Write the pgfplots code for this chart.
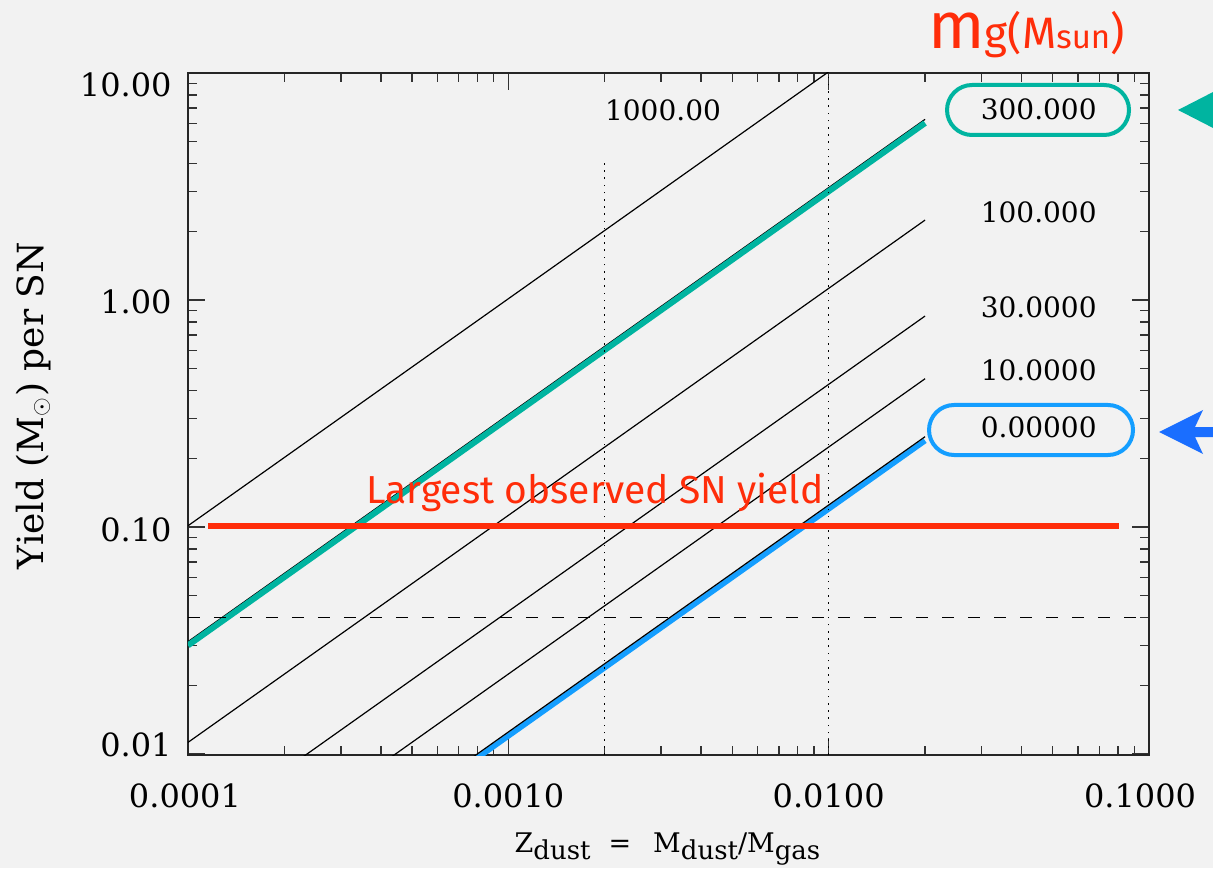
\documentclass[border=0pt]{standalone}
\usepackage{fontspec}
\setmainfont{DejaVu Serif}
\newfontfamily\handfont{Fira Sans}
\usepackage{pgfplots}
\pgfplotsset{compat=1.18}

\definecolor{bg}{RGB}{242,242,242}
\definecolor{tealc}{RGB}{0,180,160}
\definecolor{skyb}{RGB}{20,158,255}
\definecolor{arrowb}{RGB}{26,110,255}
\definecolor{redc}{RGB}{255,45,10}

\newcommand{\tickfont}{\fontsize{16}{19}\selectfont}
\newcommand{\labfont}{\fontsize{14}{17}\selectfont}

\begin{document}
\begin{tikzpicture}[x=1pt,y=1pt]
\fill[bg] (0,0) rectangle (606.5,434);
\useasboundingbox (0,0) rectangle (606.5,434);

\begin{axis}[
  at={(94pt,56.5pt)}, anchor=south west,
  scale only axis, width=480.5pt, height=341pt,
  xmode=log, ymode=log,
  xmin=1e-4, xmax=0.1, ymin=0.0099, ymax=10,
  axis background/.style={fill=bg},
  axis line style={line width=0.9pt, black!85},
  tick style={line width=0.7pt, black!80},
  major tick length=8.5pt, minor tick length=4.5pt,
  tick align=inside,
  xtick={1e-4,1e-3,1e-2,1e-1},
  xticklabels={\hspace*{-3pt}0.0001,0.0010,0.0100,\hspace*{-9pt}0.1000},
  minor xtick={2e-4,3e-4,4e-4,5e-4,6e-4,7e-4,8e-4,9e-4,
               2e-3,3e-3,4e-3,5e-3,6e-3,7e-3,8e-3,9e-3,
               2e-2,3e-2,4e-2,5e-2,6e-2,7e-2,8e-2,9e-2},
  ytick={0.01,0.1,1,10},
  yticklabels={\raisebox{-1pt}[0pt][0pt]{0.01},
               \raisebox{-7pt}[0pt][0pt]{0.10},
               \raisebox{-6.7pt}[0pt][0pt]{1.00},
               \raisebox{-11.8pt}[0pt][0pt]{10.00}},
  minor ytick={0.02,0.03,0.04,0.05,0.06,0.07,0.08,0.09,
               0.2,0.3,0.4,0.5,0.6,0.7,0.8,0.9,
               2,3,4,5,6,7,8,9},
  xticklabel style={font=\tickfont, inner sep=0pt, anchor=north, yshift=-14pt},
  yticklabel style={font=\tickfont, inner sep=0pt, anchor=east, xshift=-8pt},
  clip=true,
]
% m_g = 0 case, drawn underneath its thin model line
\addplot[skyb, line width=2.7pt] coordinates {(1e-4,0.0012) (0.02,0.24)};

% yield = Z (m_g + 12.5) for each grown mass m_g
\addplot[black, line width=0.6pt] coordinates {(1e-4,0.10125) (0.02,20.25)};   % 1000
\addplot[black, line width=0.6pt] coordinates {(1e-4,0.03125) (0.02,6.25)};    % 300
\addplot[black, line width=0.6pt] coordinates {(1e-4,0.01125) (0.02,2.25)};    % 100
\addplot[black, line width=0.6pt] coordinates {(1e-4,0.00425) (0.02,0.85)};    % 30
\addplot[black, line width=0.6pt] coordinates {(1e-4,0.00225) (0.02,0.45)};    % 10
\addplot[black, line width=0.6pt] coordinates {(1e-4,0.00125) (0.02,0.25)};    % 0

% m_g = 300 case, drawn over its thin model line
\addplot[tealc, line width=3pt] coordinates {(1e-4,0.0301) (0.02,6.02)};

% reference levels
\addplot[black, line width=0.6pt, dash pattern=on 6pt off 7pt] coordinates {(1e-4,0.04) (0.1,0.04)};
\addplot[black, line width=0.7pt, dash pattern=on 0.8pt off 2.8pt] coordinates {(0.002,0.0099) (0.002,4)};
\addplot[black, line width=0.7pt, dash pattern=on 0.8pt off 2.8pt] coordinates {(0.01,0.0099) (0.01,10)};

% largest observed supernova dust yield
\addplot[redc, line width=2.8pt] coordinates {(1.155e-4,0.101) (0.0806,0.101)};
\end{axis}

% curve labels
\node[font=\labfont] at (331.5,379) {1000.00};
\node[font=\labfont, anchor=east, inner sep=0pt] at (548.5,379.5) {300.000};
\node[font=\labfont, anchor=east, inner sep=0pt] at (548.5,328) {100.000};
\node[font=\labfont, anchor=east, inner sep=0pt] at (548.5,280.25) {30.0000};
\node[font=\labfont, anchor=east, inner sep=0pt] at (548.5,249) {10.0000};
\node[font=\labfont, anchor=east, inner sep=0pt] at (548.5,220.25) {0.00000};

% highlight frames
\draw[tealc, line width=2pt, rounded corners=12.5pt] (473.5,366.5) rectangle (564.5,391.5);
\draw[skyb, line width=2pt, rounded corners=12.5pt] (464.5,206.5) rectangle (566.5,231.5);

% pointers at the right margin
\fill[tealc] (589,379) -- (612,390.8) -- (612,367.2) -- cycle;
\fill[arrowb] (579.5,218) -- (601.5,229) -- (597.5,220.5) -- (612,220.5)
   -- (612,215.5) -- (597.5,215.5) -- (601.5,207) -- cycle;

% annotations
\node[anchor=base, text=redc, inner sep=0pt, font=\handfont\fontsize{19.5}{22}\selectfont] at (297.5,182.5) {Largest observed SN yield};
\node[anchor=base west, text=redc, inner sep=0pt] at (464,409.5)
  {\handfont{\fontsize{33}{36}\selectfont m}{\fontsize{22}{25}\selectfont g(M}{\fontsize{16.5}{19}\selectfont sun}{\fontsize{22}{25}\selectfont )}};

% axis titles
\node[anchor=base, rotate=90, inner sep=0pt, font=\fontsize{18}{22}\selectfont] at (21.5,231.25) {Yield (M$_\odot$) per SN};
\node[anchor=base, inner sep=0pt, font=\fontsize{13.5}{16}\selectfont] at (333.75,8)
  {Z\raisebox{-3.5pt}{\fontsize{13}{15}\selectfont dust}\hspace{9pt}=\hspace{11pt}M\raisebox{-3.5pt}{\fontsize{13}{15}\selectfont dust}/M\raisebox{-3.5pt}{\fontsize{13}{15}\selectfont gas}};
\end{tikzpicture}
\end{document}
